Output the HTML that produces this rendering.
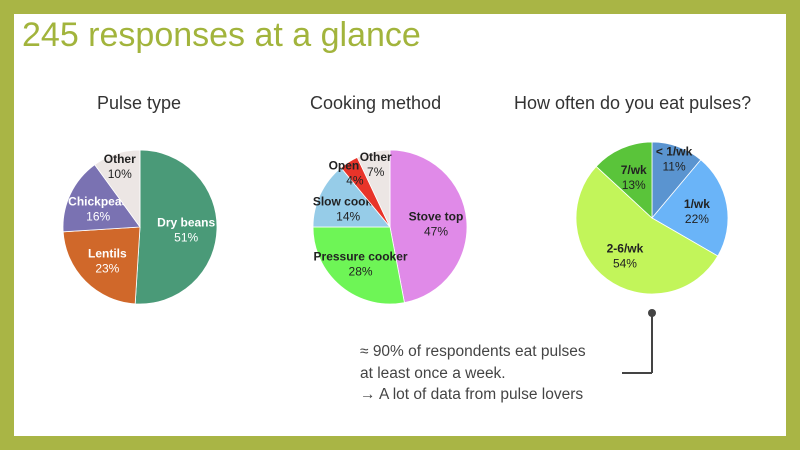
<!DOCTYPE html>
<html><head><meta charset="utf-8"><style>
body{margin:0;width:800px;height:450px;overflow:hidden;background:#a9b545;font-family:"Liberation Sans",sans-serif}
#panel{position:absolute;left:14px;top:14px;width:772px;height:422px;background:#fff}
.t{position:absolute;color:#333;font-family:"Liberation Sans",sans-serif}
</style></head><body>
<div id="panel"></div>
<div class="t" style="left:22px;top:16px;font-size:34px;color:#a2b43c;">245 responses at a glance</div>
<div class="t" style="left:97px;top:93px;font-size:18px;">Pulse type</div>
<div class="t" style="left:310px;top:93px;font-size:18px;">Cooking method</div>
<div class="t" style="left:514px;top:93px;font-size:18px;">How often do you eat pulses?</div>
<div class="t" style="left:360px;top:341px;font-size:15.5px;line-height:21.5px;color:#444;">≈ 90% of respondents eat pulses<br>at least once a week.<br>→ A lot of data from pulse lovers</div>
<svg id="svg" width="800" height="450" style="position:absolute;left:0;top:0">
<line x1="652" y1="313" x2="652" y2="373" stroke="#444" stroke-width="2"/>
<line x1="652" y1="373" x2="622" y2="373" stroke="#444" stroke-width="2"/>
<circle cx="652" cy="313" r="4" fill="#444"/>
</svg>
<script>
const pulseLabels=["Dry beans","Lentils","Chickpeas","Other"];
const pulseValues=[51,23,16,10];
const pulseColors=["#4a9a78","#d0682a","#7a72b2","#ece6e4"];
const cookLabels=["Stove top","Pressure cooker","Slow cooker","Open fire","Other"];
const cookValues=[47,28,14,4,7];
const cookColors=["#e08ae8","#6ef556","#96cce8","#e8342a","#ece6e4"];
const freqLabels=["< 1/wk","1/wk","2-6/wk","7/wk"];
const freqValues=[11,22,53,13];
const freqColors=["#5a94d0","#6ab4f8","#c2f55a","#5ac43a"];
const NS="http://www.w3.org/2000/svg";
const svg=document.getElementById('svg');
function pie(name,cx,cy,r,labels,values,colors,whiteText){
  const total=values.reduce((a,b)=>a+b,0);
  let a0=-Math.PI/2;
  values.forEach((v,i)=>{
    const a1=a0+v/total*2*Math.PI;
    const large=(a1-a0)>Math.PI?1:0;
    const p=document.createElementNS(NS,'path');
    p.setAttribute('d',`M${cx},${cy} L${cx+r*Math.cos(a0)},${cy+r*Math.sin(a0)} A${r},${r} 0 ${large} 1 ${cx+r*Math.cos(a1)},${cy+r*Math.sin(a1)} Z`);
    p.setAttribute('fill',colors[i]);p.setAttribute('stroke','#fff');p.setAttribute('stroke-width','0.8');
    
    
    svg.appendChild(p);
    const m=(a0+a1)/2, f=v/total<0.12?0.85:0.6;
    const lx=cx+r*f*Math.cos(m), ly=cy+r*f*Math.sin(m);
    const t=document.createElementNS(NS,'text');
    t.setAttribute('x',lx);t.setAttribute('y',ly-2);t.setAttribute('text-anchor','middle');
    t.setAttribute('font-size','12');t.setAttribute('font-family','Liberation Sans, sans-serif');
    const col=(whiteText&&v/total>=0.12)?'#fff':'#222';
    t.setAttribute('fill',col);
    
    
    const s1=document.createElementNS(NS,'tspan');s1.setAttribute('font-weight','bold');s1.textContent=labels[i];
    const s2=document.createElementNS(NS,'tspan');s2.setAttribute('x',lx);s2.setAttribute('dy','15');s2.textContent=Math.round(v/total*100)+'%';
    t.appendChild(s1);t.appendChild(s2);svg.appendChild(t);
    a0=a1;
  });
}
pie('pulse',140,227,77,pulseLabels,pulseValues,pulseColors,true);
pie('cooking',390,227,77,cookLabels,cookValues,cookColors,false);
pie('frequency',652,218,76,freqLabels,freqValues,freqColors,false);
</script>
</body></html>
